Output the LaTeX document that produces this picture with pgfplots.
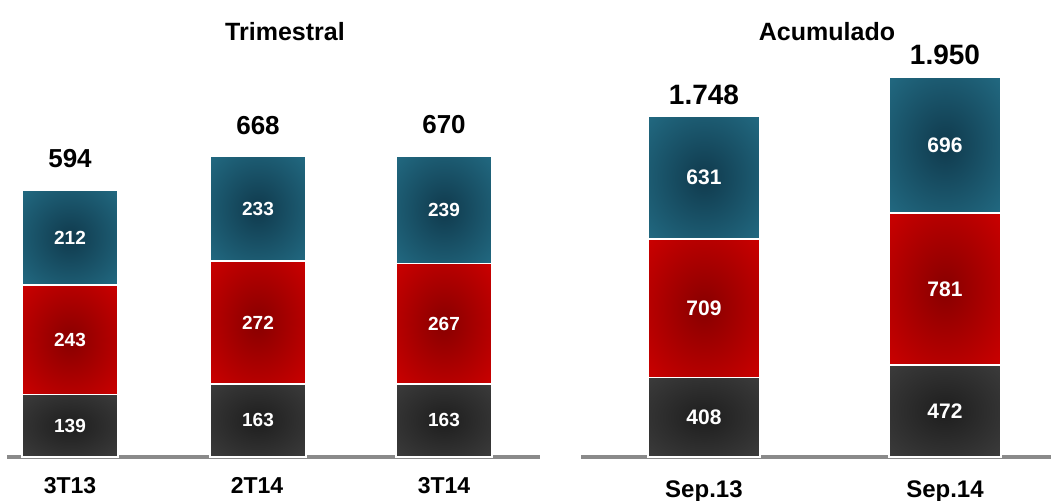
\documentclass[border=0pt]{standalone}
\usepackage{pgfplots}
\pgfplotsset{compat=1.18}
\usepackage{fontspec}
\setmainfont{Liberation Sans}

\definecolor{grayE}{HTML}{3C3C3C}
\definecolor{grayC}{HTML}{1E1E1E}
\definecolor{redE}{HTML}{CC0000}
\definecolor{redC}{HTML}{880000}
\definecolor{tealE}{HTML}{226A82}
\definecolor{tealC}{HTML}{103A4D}
\definecolor{axisgray}{HTML}{8A8A8A}

\pgfdeclareradialshading{grayshade}{\pgfpoint{0bp}{0bp}}{color(0bp)=(grayC); color(36bp)=(grayE); color(72bp)=(grayE)}
\pgfdeclareradialshading{redshade}{\pgfpoint{0bp}{0bp}}{color(0bp)=(redC); color(36bp)=(redE); color(72bp)=(redE)}
\pgfdeclareradialshading{tealshade}{\pgfpoint{0bp}{0bp}}{color(0bp)=(tealC); color(36bp)=(tealE); color(72bp)=(tealE)}

\tikzset{
  segG/.style={shading=grayshade, draw=white, line width=0.9pt},
  segR/.style={shading=redshade, draw=white, line width=0.9pt},
  segT/.style={shading=tealshade, draw=white, line width=0.9pt},
  labS/.style={text=white, font=\fontsize{9.5}{11}\selectfont\bfseries},
  labL/.style={text=white, font=\fontsize{10.5}{12}\selectfont\bfseries},
  totS/.style={anchor=base, yshift=11pt, font=\fontsize{13}{15}\selectfont\bfseries},
  totL/.style={anchor=base, yshift=6pt, font=\fontsize{14}{16}\selectfont\bfseries},
}
\pgfplotsset{
  frame/.style={
    anchor=south west, scale only axis, ymin=0, ymax=1,
    axis x line*=bottom, axis y line=none,
    x axis line style={draw=axisgray, line width=1.75pt},
    major tick length=0pt, clip=false,
  },
  barS/.style={
    anchor=south west, scale only axis, hide axis, clip=false,
    ybar stacked, xmin=-0.5, xmax=0.5, ymin=0, ymax=900,
    width=48pt, height=202.5pt, bar width=48pt,
  },
  barL/.style={
    anchor=south west, scale only axis, hide axis, clip=false,
    ybar stacked, xmin=-0.5, xmax=0.5, ymin=0, ymax=2100,
    width=56pt, height=204.75pt, bar width=56pt,
  },
}

\begin{document}
\begin{tikzpicture}
\useasboundingbox (0,0) rectangle (525.5pt,250pt);
\node[anchor=base, font=\fontsize{12.5}{14}\selectfont\bfseries] at (142.5pt,230pt) {Trimestral};
\node[anchor=base, font=\fontsize{12.5}{14}\selectfont\bfseries] at (413.5pt,230pt) {Acumulado};

% frames (baseline + category labels)
\begin{axis}[frame, at={(3.5pt,21.5pt)}, width=266.5pt, height=202.5pt,
  xmin=-0.337, xmax=2.513, xtick={0,1,2},
  xticklabels={3T13,2T14,3T14},
  xticklabel style={anchor=base, yshift=-18pt, font=\fontsize{11.5}{13}\selectfont\bfseries}]
\end{axis}
\begin{axis}[frame, at={(290.5pt,21.5pt)}, width=235pt, height=204.75pt,
  xmin=-0.510, xmax=1.44, xtick={0,1},
  xticklabels={Sep.13,Sep.14},
  xticklabel style={anchor=base, yshift=-20pt, font=\fontsize{12}{14}\selectfont\bfseries}]
\end{axis}

% 3T13
\begin{axis}[barS, at={(11pt,21.5pt)}]
\addplot[segG] coordinates {(0,139)};
\addplot[segR] coordinates {(0,243)};
\addplot[segT] coordinates {(0,212)};
\coordinate (a1) at (axis cs:0,69.5);
\coordinate (a2) at (axis cs:0,260.5);
\coordinate (a3) at (axis cs:0,488);
\coordinate (at) at (axis cs:0,594);
\end{axis}
\node[labS] at (a1) {139};
\node[labS] at (a2) {243};
\node[labS] at (a3) {212};
\node[totS] at (at) {594};
% 2T14
\begin{axis}[barS, at={(105pt,21.5pt)}]
\addplot[segG] coordinates {(0,163)};
\addplot[segR] coordinates {(0,272)};
\addplot[segT] coordinates {(0,233)};
\coordinate (b1) at (axis cs:0,81.5);
\coordinate (b2) at (axis cs:0,299);
\coordinate (b3) at (axis cs:0,551.5);
\coordinate (bt) at (axis cs:0,668);
\end{axis}
\node[labS] at (b1) {163};
\node[labS] at (b2) {272};
\node[labS] at (b3) {233};
\node[totS] at (bt) {668};
% 3T14
\begin{axis}[barS, at={(198pt,21.5pt)}]
\addplot[segG] coordinates {(0,163)};
\addplot[segR] coordinates {(0,267)};
\addplot[segT] coordinates {(0,239)};
\coordinate (c1) at (axis cs:0,81.5);
\coordinate (c2) at (axis cs:0,296.5);
\coordinate (c3) at (axis cs:0,549.5);
\coordinate (ct) at (axis cs:0,669);
\end{axis}
\node[labS] at (c1) {163};
\node[labS] at (c2) {267};
\node[labS] at (c3) {239};
\node[totS] at (ct) {670};
% Sep.13
\begin{axis}[barL, at={(324pt,21.5pt)}]
\addplot[segG] coordinates {(0,408)};
\addplot[segR] coordinates {(0,709)};
\addplot[segT] coordinates {(0,631)};
\coordinate (d1) at (axis cs:0,204);
\coordinate (d2) at (axis cs:0,762.5);
\coordinate (d3) at (axis cs:0,1432.5);
\coordinate (dt) at (axis cs:0,1748);
\end{axis}
\node[labL] at (d1) {408};
\node[labL] at (d2) {709};
\node[labL] at (d3) {631};
\node[totL] at (dt) {1.748};
% Sep.14
\begin{axis}[barL, at={(444.5pt,21.5pt)}]
\addplot[segG] coordinates {(0,472)};
\addplot[segR] coordinates {(0,781)};
\addplot[segT] coordinates {(0,696)};
\coordinate (e1) at (axis cs:0,236);
\coordinate (e2) at (axis cs:0,862.5);
\coordinate (e3) at (axis cs:0,1601);
\coordinate (et) at (axis cs:0,1949);
\end{axis}
\node[labL] at (e1) {472};
\node[labL] at (e2) {781};
\node[labL] at (e3) {696};
\node[totL] at (et) {1.950};
\end{tikzpicture}
\end{document}
